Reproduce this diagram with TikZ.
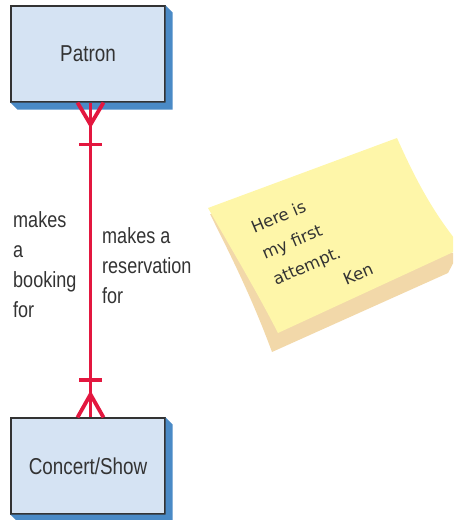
\documentclass[tikz,border=0pt]{standalone}
\usepackage{fontspec}
\setmainfont{Liberation Sans}[FakeStretch=0.82]
\newfontfamily\notefont{DejaVu Sans}
\usepackage{tikz}
\usetikzlibrary{calc}

\definecolor{boxfill}{HTML}{D5E3F3}
\definecolor{boxshadow}{HTML}{4A8AC6}
\definecolor{boxline}{HTML}{333333}
\definecolor{relred}{HTML}{E3173F}
\definecolor{noteyellow}{HTML}{FEF6A9}
\definecolor{notetan}{HTML}{F2D8A9}
\definecolor{inkgray}{HTML}{333333}

\begin{document}
\begin{tikzpicture}[x=1pt, y=1pt,
  entity/.style={draw=boxline, line width=1.2pt, fill=boxfill, minimum width=154pt, minimum height=96pt,
    inner sep=0pt, text=inkgray, font=\fontsize{23}{26}\selectfont},
  rel/.style={draw=relred, line width=3.8pt},
  rellabel/.style={anchor=north west, inner sep=0pt, align=left, text=inkgray, font=\fontsize{22}{30}\selectfont},
  notetext/.style={align=left, inner sep=0pt, text=inkgray, font=\notefont\fontsize{16.5}{28}\selectfont}]
  \useasboundingbox (0,0) rectangle (453,520);
  \clip (0,0) rectangle (453,520);
  \node[entity] (patron) at (88,466) {Patron};
  \node[entity] (show) at (88,54) {Concert/Show};
  \foreach \n in {patron,show}
    \fill[boxshadow] (\n.north east) -- ++(7,-7) -- ($(\n.south east)+(7,-7)$) -- ($(\n.south west)+(7,-7)$)
      -- (\n.south west) -- (\n.south east) -- cycle;
  \coordinate (top) at ($(patron.south)+(2.5,0)$);
  \coordinate (bot) at ($(show.north)+(2.5,0)$);
  \draw[rel] (top) -- (bot);
  \draw[rel] ($(top)+(-13,0)$) -- ($(top)+(0,-22)$) -- ($(top)+(13,0)$);
  \draw[rel] ($(top)+(-11.5,-42)$) -- ($(top)+(11.5,-42)$);
  \draw[rel] ($(bot)+(-13,0)$) -- ($(bot)+(0,23)$) -- ($(bot)+(13,0)$);
  \draw[rel] ($(bot)+(-11.5,37)$) -- ($(bot)+(11.5,37)$);
  \node[rellabel] (booking) at (13,309) {makes\\a\\booking\\for};
  \node[rellabel] (reservation) at (102,293) {makes a\\reservation\\for};
  \fill[notetan] (210,306) .. controls (232,262) and (252,222) .. (272,168) -- (448,247) -- (458,266) -- (300,300) -- cycle;
  \fill[noteyellow] (208,312) -- (397,382) .. controls (418,335) and (435,305) .. (462,272) -- (278,187)
    .. controls (256,230) and (232,270) .. (208,312);
  \node[notetext, rotate=23] (note) at (312,272) {Here is\\my first\\attempt.\\\hspace*{3.9em}Ken};
\end{tikzpicture}
\end{document}
